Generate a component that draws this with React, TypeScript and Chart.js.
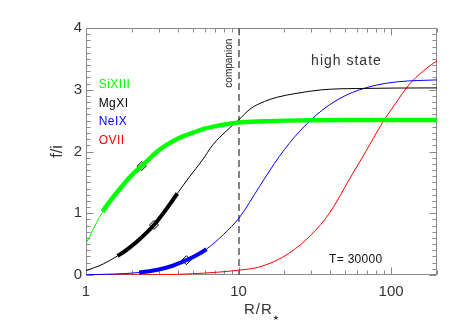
import { useEffect, useRef } from 'react';
import { Chart, registerables } from 'chart.js';

Chart.register(...registerables);

// ---- data ----
const siX = [1, 1.285, 1.65, 2.0, 2.32, 3.0, 3.87, 5.23, 6.0, 7.44, 10, 15, 20, 50, 200];
const siY = [0.51, 1.025, 1.38, 1.62, 1.765, 2.02, 2.19, 2.32, 2.37, 2.42, 2.47, 2.49, 2.5, 2.51, 2.51];

const mgX = [1, 1.3, 1.61, 1.83, 2.2, 2.79, 3.3, 3.97, 4.8, 5.79, 6.79, 8.3, 10, 12.1, 14.8, 18, 23.8, 35.4, 58.6, 200];
const mgY = [0.07, 0.18, 0.31, 0.4, 0.56, 0.81, 1.04, 1.32, 1.6, 1.86, 2.11, 2.33, 2.51, 2.7, 2.81, 2.88, 2.94, 3.0, 3.02, 3.03];

const neX = [1, 1.5, 2.23, 3.0, 3.7, 4.55, 5.3, 6.16, 8.0, 10.2, 13.7, 18.5, 25, 35.4, 50.6, 75.5, 112, 200];
const neY = [0.005, 0.015, 0.04, 0.09, 0.15, 0.24, 0.32, 0.42, 0.66, 0.94, 1.43, 1.92, 2.32, 2.67, 2.91, 3.06, 3.13, 3.16];

const oX = [1, 3, 5, 10.2, 13.7, 19.5, 27.7, 39.4, 53, 68.3, 87.5, 107, 131, 160, 200];
const oY = [0, 0.005, 0.02, 0.08, 0.13, 0.29, 0.57, 1.0, 1.54, 2.0, 2.46, 2.78, 3.08, 3.29, 3.47];

const ionNames = ['SiXIII', 'MgXI', 'NeIX', 'OVII'];
const ionColors = ['#00ff00', '#000000', '#0000ff', '#ff0000'];
const thickFrom = [1.285, 1.61, 2.23, null];
const thickTo = [200, 3.97, 6.16, null];

const markX = [2.32, 2.79, 4.55];
const markY = [1.765, 0.81, 0.24];

const xTickLabels = [1, 10, 100];
const xMinorTicks = [2, 3, 4, 5, 6, 7, 8, 9, 20, 30, 40, 50, 60, 70, 80, 90, 200];
const yTickLabels = [0, 1, 2, 3, 4];
const companionR = 10;
const stateLabel = 'high state';
const tempLabel = 'T= 30000';

const FONT = '"Liberation Sans", Arial, Helvetica, sans-serif';
const FRAME = '#8a8a8a';
const TEXT = '#333333';

const seriesX = [siX, mgX, neX, oX];
const seriesY = [siY, mgY, neY, oY];

const decorPlugin = {
  id: 'decor',
  beforeDatasetsDraw(chart: any) {
    const { ctx, chartArea: a, scales } = chart;
    const xs = scales.x;
    const ys = scales.y;
    ctx.save();
    ctx.strokeStyle = FRAME;
    ctx.lineWidth = 1;
    const line = (x1: number, y1: number, x2: number, y2: number) => {
      ctx.beginPath();
      ctx.moveTo(x1, y1);
      ctx.lineTo(x2, y2);
      ctx.stroke();
    };
    const L = Math.round(a.left) + 0.5;
    const R = Math.round(a.right) - 0.5;
    const T = Math.round(a.top) + 0.5;
    const B = Math.round(a.bottom) - 0.5;
    ctx.strokeRect(L, T, R - L, B - T);
    for (let i = 0; i <= 40; i++) {
      const v = i / 10;
      const py = Math.round(ys.getPixelForValue(v)) + 0.5;
      const len = i % 10 === 0 ? 7 : 4;
      line(L, py, L + len, py);
      line(R, py, R - len, py);
    }
    const xt = [
      ...xTickLabels.map((v) => [v, 7]),
      ...xMinorTicks.map((v) => [v, 4]),
    ];
    for (const [v, len] of xt) {
      const px = Math.round(xs.getPixelForValue(v)) + 0.5;
      line(px, B, px, B - len);
      line(px, T, px, T + len);
    }
    ctx.strokeStyle = '#5a5a5a';
    ctx.lineWidth = 1.5;
    ctx.setLineDash([7, 4]);
    const cx = Math.round(xs.getPixelForValue(companionR));
    line(cx, a.top, cx, a.bottom);
    ctx.restore();
  },
  afterDatasetsDraw(chart: any) {
    const { ctx, chartArea: a, scales } = chart;
    const xs = scales.x;
    const ys = scales.y;
    ctx.save();
    const anyCtx = ctx as any;
    anyCtx.letterSpacing = '0.5px';
    ctx.font = `12px ${FONT}`;
    ctx.textAlign = 'left';
    ctx.textBaseline = 'middle';
    const legY = [3.08, 2.77, 2.48, 2.17];
    ionNames.forEach((n, i) => {
      ctx.fillStyle = ionColors[i];
      ctx.fillText(n, xs.getPixelForValue(1.21), ys.getPixelForValue(legY[i]));
    });
    anyCtx.letterSpacing = '1px';
    ctx.fillStyle = TEXT;
    ctx.font = `14px ${FONT}`;
    ctx.textAlign = 'center';
    ctx.fillText(stateLabel, xs.getPixelForValue(51), ys.getPixelForValue(3.47));
    anyCtx.letterSpacing = '0.3px';
    ctx.fillStyle = '#111';
    ctx.font = `12px ${FONT}`;
    ctx.fillText(tempLabel, xs.getPixelForValue(58.7), ys.getPixelForValue(0.243));
    anyCtx.letterSpacing = '0px';
    ctx.save();
    ctx.translate(xs.getPixelForValue(8.65), ys.getPixelForValue(3.43));
    ctx.rotate(-Math.PI / 2);
    ctx.font = `10px ${FONT}`;
    ctx.fillStyle = '#222';
    ctx.fillText('companion', 0, 0);
    ctx.restore();
    ctx.fillStyle = TEXT;
    ctx.font = `15px ${FONT}`;
    ctx.textBaseline = 'alphabetic';
    ctx.textAlign = 'left';
    anyCtx.letterSpacing = '1px';
    const main = 'R/R';
    const w1 = ctx.measureText(main).width;
    ctx.font = `7px "DejaVu Sans", sans-serif`;
    anyCtx.letterSpacing = '0px';
    const w2 = ctx.measureText('★').width;
    const cxm = (a.left + a.right) / 2;
    const sx = cxm - (w1 + w2) / 2;
    ctx.font = `15px ${FONT}`;
    anyCtx.letterSpacing = '1px';
    ctx.fillText(main, sx, 314);
    anyCtx.letterSpacing = '0px';
    ctx.font = `7px "DejaVu Sans", sans-serif`;
    ctx.fillText('★', sx + w1, 320);
    ctx.restore();
  },
};

export default function App() {
  const ref = useRef<HTMLCanvasElement>(null);
  useEffect(() => {
    if (!ref.current) return;
    const datasets: any[] = seriesX.map((xsArr, i) => {
      const lo = thickFrom[i];
      const hi = thickTo[i];
      return {
        label: ionNames[i],
        data: xsArr.map((x, j) => ({ x, y: seriesY[i][j] })),
        borderColor: ionColors[i],
        backgroundColor: ionColors[i],
        borderWidth: 1,
        pointRadius: 0,
        cubicInterpolationMode: 'monotone',
        fill: false,
        segment: {
          borderWidth: (c: any) =>
            lo !== null && hi !== null && c.p0.parsed.x >= lo - 1e-6 && c.p1.parsed.x <= hi + 1e-6
              ? (i === 0 ? 4.5 : 4)
              : 1,
        },
      };
    });
    datasets.push({
      label: 'marks',
      data: markX.map((x, j) => ({ x, y: markY[j] })),
      showLine: false,
      pointStyle: 'rectRot',
      pointRadius: 4.5,
      pointBorderColor: '#000',
      pointBackgroundColor: 'rgba(0,0,0,0)',
      pointBorderWidth: 1,
      borderColor: '#000',
      backgroundColor: 'rgba(0,0,0,0)',
    });
    const chart = new Chart(ref.current, {
      type: 'line',
      data: { datasets },
      plugins: [decorPlugin],
      options: {
        animation: false,
        responsive: false,
        devicePixelRatio: 1,
        layout: { padding: { top: 28, right: 26, left: 0, bottom: 0 } },
        plugins: {
          legend: { display: false },
          tooltip: { enabled: false },
        },
        scales: {
          x: {
            type: 'logarithmic',
            min: 1,
            max: 200,
            grid: { display: false, drawTicks: false },
            border: { display: false },
            afterBuildTicks: (s: any) => {
              s.ticks = xTickLabels.map((v) => ({ value: v }));
            },
            afterFit: (s: any) => {
              s.height = 56;
            },
            ticks: {
              autoSkip: false,
              maxRotation: 0,
              padding: 8,
              color: TEXT,
              font: { family: FONT, size: 15 },
              callback: (v: any) => String(v),
            },
          },
          y: {
            type: 'linear',
            min: 0,
            max: 4,
            grid: { display: false, drawTicks: false },
            border: { display: false },
            afterBuildTicks: (s: any) => {
              s.ticks = yTickLabels.map((v) => ({ value: v }));
            },
            afterFit: (s: any) => {
              s.width = 86;
            },
            ticks: {
              padding: 4,
              color: TEXT,
              font: { family: FONT, size: 15 },
            },
            title: {
              display: true,
              text: 'f/i',
              color: TEXT,
              font: { family: FONT, size: 16 },
              padding: { top: 48, bottom: 0 },
            },
          },
        },
      } as any,
    });
    return () => chart.destroy();
  }, []);
  return (
    <div style={{ position: 'absolute', left: 0, top: 0, width: 463, height: 331, background: '#fff' }}>
      <canvas ref={ref} width={463} height={331} />
    </div>
  );
}
